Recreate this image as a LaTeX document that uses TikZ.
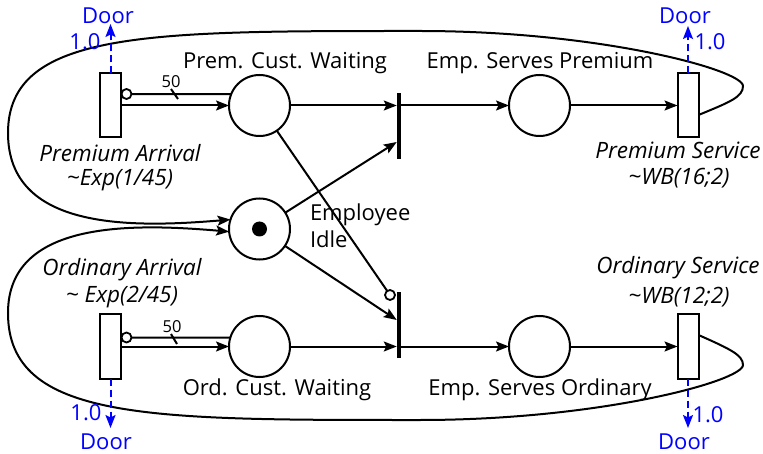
\documentclass[tikz,border=0pt]{standalone}
\usepackage{fontspec}
\setmainfont{Open Sans}
\usetikzlibrary{arrows.meta,calc}
\definecolor{doorblue}{RGB}{0,0,255}
\begin{document}
\begin{tikzpicture}[x=1pt,y=-1pt,
  every node/.style={font=\fontsize{22}{27}\selectfont, inner sep=0pt, outer sep=0pt},
  place/.style={draw, circle, minimum size=61pt, line width=2pt},
  trans/.style={draw, rectangle, minimum width=21pt, minimum height=64pt, line width=2pt, fill=white},
  tbar/.style={fill=black, rectangle, minimum width=4.5pt, minimum height=66pt},
  inh/.style={draw, circle, minimum size=10pt, line width=1.8pt, fill=white},
  token/.style={fill=black, circle, minimum size=15pt},
  arc/.style={line width=2pt, -{Stealth[length=13pt,width=10pt,inset=2.5pt]}},
  plainarc/.style={line width=2pt},
  door/.style={draw=doorblue, line width=2pt, dash pattern=on 7pt off 4pt, -{Stealth[length=13pt,width=10pt,inset=2.5pt]}},
  lbl/.style={},
  ilbl/.style={font=\fontsize{22.5}{27}\selectfont\itshape},
  blbl/.style={text=doorblue},
  wlbl/.style={font=\fontsize{16.5}{18}\selectfont}
]
\useasboundingbox (0,0) rectangle (763,454);

% places and transitions
\node[trans] (pa)  at (110.5,105.5) {};
\node[place] (pcw) at (259.5,105.5) {};
\node[tbar]  (tb)  at (399,126) {};
\node[place] (esp) at (539.5,105.5) {};
\node[trans] (ps)  at (688,105.5) {};
\node[place] (ei)  at (259.5,229) {};
\node[token] (tok) at (ei) {};
\node[trans] (oa)  at (110.5,346.5) {};
\node[place] (ocw) at (259.5,346.5) {};
\node[tbar]  (bb)  at (399,325) {};
\node[place] (eso) at (539.5,346.5) {};
\node[trans] (os)  at (688,346.5) {};

% inhibitor circles
\node[inh] (ia1) at ($(pa.east)+(5.5,-11.5)$) {};
\node[inh] (ia2) at ($(oa.east)+(5.5,-9)$) {};
\node[inh] (ib)  at (390,295) {};

% labels
\node[lbl] (lpcw) at (285,63) {Prem. Cust. Waiting};
\node[lbl] (lesp) at (540,63) {Emp. Serves Premium};
\node[lbl] (locw) at (277,390) {Ord. Cust. Waiting};
\node[lbl] (leso) at (540,390) {Emp. Serves Ordinary};
\node[lbl, anchor=west, align=left] (lei) at (310,226) {Employee\\Idle};
\node[ilbl] (lpa1) at (120,153) {Premium Arrival};
\node[ilbl] (lpa2) at (120,180) {\textasciitilde Exp(1/45)};
\node[ilbl] (lps1) at (678,150) {Premium Service};
\node[ilbl] (lps2) at (679,178) {\textasciitilde WB(16;2)};
\node[ilbl] (loa1) at (122,270) {Ordinary Arrival};
\node[ilbl] (loa2) at (122,297) {\textasciitilde{} Exp(2/45)};
\node[ilbl] (los1) at (678,268) {Ordinary Service};
\node[ilbl] (los2) at (679,297) {\textasciitilde WB(12;2)};
\node[wlbl] (w1) at (171,82) {50};
\node[wlbl] (w2) at (172,327) {50};

% arcs top
\draw[arc] (pa) -- (pcw);
\draw[plainarc] (ia1) -- (pcw.158.6);
\draw[plainarc] (171,89) -- (178,99);
\draw[arc] (pcw) -- (pcw -| tb.west);
\draw[arc] (esp -| tb.east) -- (esp);
\draw[arc] (esp) -- (ps);
\coordinate (tbin) at ($(tb.west)+(0,16)$);
\draw[arc] (ei) -- (tbin);

% arcs bottom
\draw[arc] (oa) -- (ocw);
\draw[plainarc] (ia2) -- (ocw.163.4);
\draw[plainarc] (171,334) -- (177,344);
\draw[arc] (ocw) -- (ocw -| bb.west);
\draw[arc] (eso -| bb.east) -- (eso);
\draw[arc] (eso) -- (os);
\coordinate (bbin) at ($(bb.west)+(0,-5)$);
\draw[arc] (ei) -- (bbin);
\draw[plainarc] (pcw) -- (ib);

% return loops
\coordinate (r1) at (743,86);
\coordinate (t1) at (420,31);
\coordinate (l1) at (8,133);
\draw[arc] ($(ps.east)+(0,9.5)$) .. controls (730,102) and (743,97) .. (r1)
  .. controls (743,70) and (600,31) .. (t1)
  .. controls (150,31) and (8,30) .. (l1)
  .. controls (8,230) and (130,228) .. (ei.162);
\coordinate (r2) at (743,365);
\coordinate (t2) at (420,420);
\coordinate (l2) at (8,313);
\draw[arc] ($(os.east)+(0,-11.5)$) .. controls (730,349) and (743,355) .. (r2)
  .. controls (743,381) and (600,420) .. (t2)
  .. controls (150,420) and (8,421) .. (l2)
  .. controls (8,221) and (130,223) .. (ei.185);

% doors
\coordinate (d1) at (110.5,24);
\coordinate (d2) at (688,26);
\coordinate (d3) at (110.5,428);
\coordinate (d4) at (688,428);
\draw[door] (pa.north) -- (d1);
\draw[door] (ps.north) -- (d2);
\draw[door] (oa.south) -- (d3);
\draw[door] (os.south) -- (d4);
\node[blbl] (dl1) at (108,16) {Door};
\node[blbl] (pl1) at (85,42) {1.0};
\node[blbl] (dl2) at (685,16) {Door};
\node[blbl] (pl2) at (710,42) {1.0};
\node[blbl] (dl3) at (106,442) {Door};
\node[blbl] (pl3) at (86,413) {1.0};
\node[blbl] (dl4) at (684,442) {Door};
\node[blbl] (pl4) at (708,415) {1.0};
\end{tikzpicture}
\end{document}
